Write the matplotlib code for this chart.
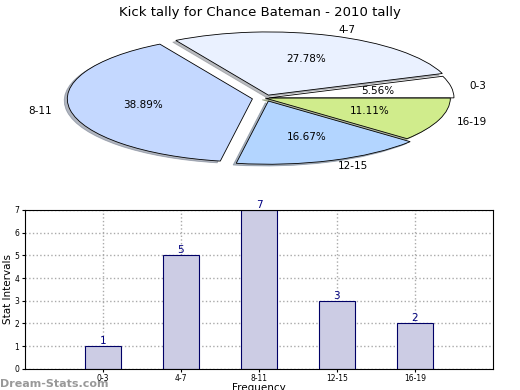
#!/usr/bin/env python3
import matplotlib
matplotlib.use("Agg")
import matplotlib.pyplot as plt

labels = ["0-3", "4-7", "8-11", "12-15", "16-19"]
counts = [1, 5, 7, 3, 2]
pie_colors = ["#ffffff", "#eaf1ff", "#c4d8ff", "#b3d5ff", "#d0ec8c"]
explode = [0.02, 0.05, 0.07, 0.05, 0.0]

fig = plt.figure(figsize=(5.2, 3.9), dpi=100)
fig.suptitle("Kick tally for Chance Bateman - 2010 tally", fontsize=9.5, y=0.985)

# pie on top, squashed into an ellipse
ax1 = fig.add_axes([0.065, 0.546, 0.89, 0.405])
ax1.pie(counts, labels=labels, colors=pie_colors, explode=explode,
        autopct="%.2f%%", startangle=0,
        shadow={"ox": -0.012, "oy": -0.02, "shade": 0.5},
        wedgeprops={"edgecolor": "black", "linewidth": 0.6},
        textprops={"fontsize": 7.5})
ax1.set_aspect("auto")

# bar chart below
ax2 = fig.add_axes([0.048, 0.054, 0.9, 0.408])
x = range(len(labels))
ax2.bar(x, counts, width=0.46, color="#ccccE4", edgecolor="#000066",
        linewidth=0.8, zorder=2)
for i, v in zip(x, counts):
    ax2.text(i, v, str(v), ha="center", va="bottom", color="#000080",
             fontsize=7.5)
ax2.set_xlim(-1, 5)
ax2.set_ylim(0, 7)
ax2.set_xticks(list(x))
ax2.set_xticklabels(labels)
ax2.tick_params(labelsize=5.5, length=2, pad=2)
ax2.grid(True, linestyle=":", color="#aaaaaa", linewidth=1, zorder=0)
ax2.set_ylabel("Stat Intervals", fontsize=7.5, labelpad=1)
ax2.set_xlabel("Frequency", fontsize=7.5, labelpad=0)

fig.text(0.0, 0.008, "Dream-Stats.com", color="#999999", fontsize=8,
         fontweight="bold")

fig.savefig("out.png", dpi=100)
